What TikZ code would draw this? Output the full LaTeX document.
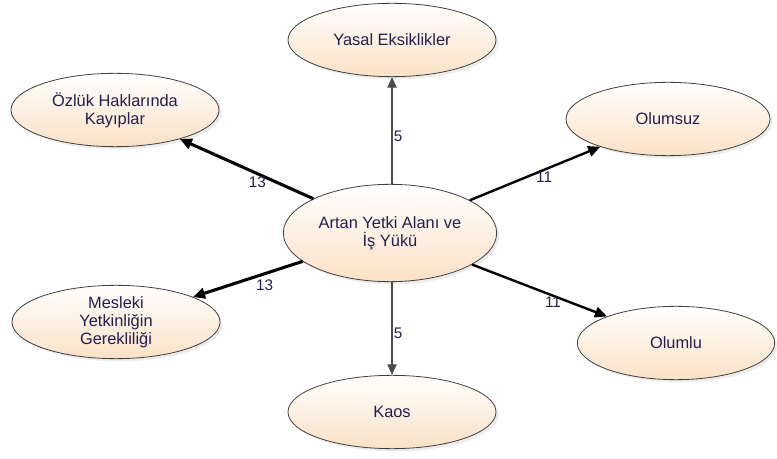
\documentclass[tikz,border=0pt]{standalone}
\usepackage{fontspec}
\setmainfont{Liberation Sans}
\usetikzlibrary{shapes.geometric,arrows.meta,shadows}

\definecolor{peach}{HTML}{FBE1C6}
\definecolor{inkblue}{HTML}{231E4E}

\tikzset{
  bubble/.style={ellipse, draw=black!75, line width=0.6pt, top color=white, bottom color=peach,
                 drop shadow={opacity=0.15, shadow xshift=2pt, shadow yshift=-2pt},
                 align=center, inner sep=0pt, text=inkblue,
                 font=\fontsize{12.3}{13.5}\selectfont, minimum width=156pt, minimum height=55pt},
  heavy/.style={-{Triangle[length=9pt,width=8pt]}, line width=2.3pt},
  medium/.style={-{Triangle[length=9pt,width=8pt]}, line width=1.8pt},
  light/.style={-{Triangle[length=8pt,width=7pt]}, line width=0.9pt, draw=black!70},
  weight/.style={text=inkblue, font=\fontsize{11.5}{13}\selectfont, inner sep=1pt}
}

\begin{document}
\begin{tikzpicture}[x=0.75pt,y=0.75pt,yscale=-1]
\useasboundingbox (0,0) rectangle (777,459);

% themes
\node [bubble, minimum width=160pt, minimum height=73pt] (artan) at (390,233) {Artan Yetki Alanı ve\\ İş Yükü};
\node [bubble] (yasal) at (392,40) {Yasal Eksiklikler};
\node [bubble] (ozluk) at (115,110) {Özlük Haklarında\\ Kayıplar};
\node [bubble, minimum width=153pt] (olumsuz) at (668,119) {Olumsuz};
\node [bubble] (mesleki) at (116,322) {Mesleki\\ Yetkinliğin\\ Gerekliliği};
\node [bubble, minimum width=148pt] (olumlu) at (676,343) {Olumlu};
\node [bubble] (kaos) at (392,412) {Kaos};

% links
\draw [light] (artan.north -| yasal.south) -- (yasal.south) node [weight, pos=0.45, right] (w1) {5};
\draw [light] (artan.south -| kaos.north) -- (kaos.north) node [weight, pos=0.55, right] (w2) {5};
\draw [heavy] (artan) -- (ozluk) node [weight, pos=0.42, below] (w3) {13};
\draw [heavy] (artan) -- (mesleki) node [weight, pos=0.45, below right] (w4) {13};
\draw [medium] (artan) -- (olumsuz) node [weight, pos=0.57, below] (w5) {11};
\draw [medium] (artan) -- (olumlu) node [weight, pos=0.6, below=-1pt] (w6) {11};
\end{tikzpicture}
\end{document}
